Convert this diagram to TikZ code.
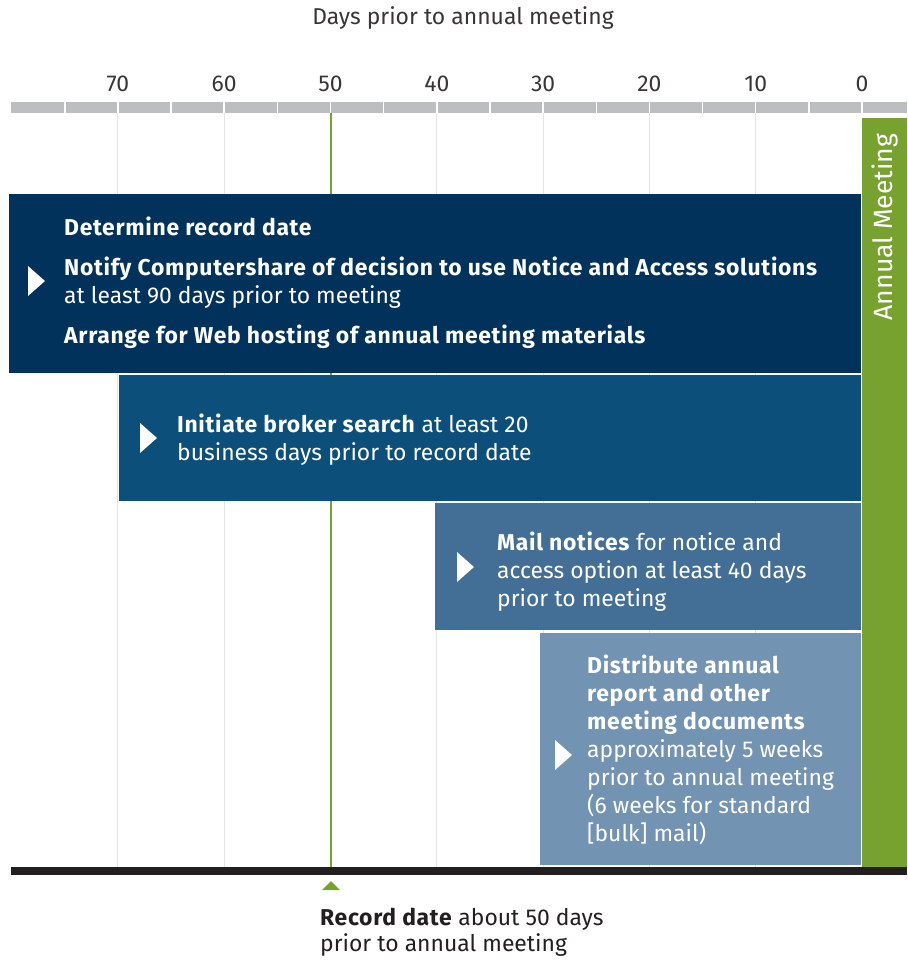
\documentclass[tikz,border=0pt]{standalone}
\usepackage{fontspec}
\setmainfont[BoldFeatures={LetterSpace=3.0}]{Fira Sans}
\usepackage{xcolor}
\usetikzlibrary{positioning}
\definecolor{NavyDeep}{HTML}{00325B}
\definecolor{NavyMid}{HTML}{0B4F7A}
\definecolor{SteelBlue}{HTML}{436F97}
\definecolor{SkyGrey}{HTML}{7393B3}
\definecolor{LeafGreen}{HTML}{78A22F}
\definecolor{InkBlack}{HTML}{231F20}
\definecolor{BarGrey}{HTML}{BCBEC0}
\definecolor{GridGrey}{HTML}{E3E4E5}

\begin{document}
\begin{tikzpicture}[
    x=1pt, y=-1pt,
    txt/.style={font=\fontsize{22.9}{28}\selectfont, inner sep=0pt},
    boxtext/.style={txt, anchor=west, align=left, text=white},
    daynum/.style={txt, anchor=base, text=InkBlack!90},
    grid/.style={GridGrey, line width=1pt},
    pointer/.style={fill=white}
  ]
  \useasboundingbox (0,0) rectangle (907,963);

  % Title and day scale
  \node[txt, anchor=base, text=InkBlack!90] (title) at (463,25) {Days prior to annual meeting};
  \fill[BarGrey] (11,102) rectangle (907,113);
  \foreach \d in {0,5,...,75}{
    \draw[white, line width=1.5pt] ({862-10.63*\d},102) -- ({862-10.63*\d},113);
  }
  \foreach \d in {70,60,...,0}{
    \node[daynum] (n\d) at ({862-10.63*\d},92) {\d};
  }

  % Vertical grid and record date line
  \foreach \d in {70,60,40,30,20,10}{
    \draw[grid] ({862-10.63*\d},113) -- ({862-10.63*\d},867);
  }
  \draw[LeafGreen, line width=1.1pt] (331,113) -- (331,867);

  % Task bars
  \fill[NavyDeep] (9,194) rectangle (861,373);
  \fill[NavyMid] (119,375) rectangle (861,501);
  \fill[SteelBlue] (435,503) rectangle (861,630);
  \fill[SkyGrey] (540,633) rectangle (861,865);

  % Pointers
  \fill[pointer] (28,266) -- (45,281) -- (28,296) -- cycle;
  \fill[pointer] (140,423) -- (157,438) -- (140,453) -- cycle;
  \fill[pointer] (457,552) -- (474,567) -- (457,582) -- cycle;
  \fill[pointer] (555,740) -- (572,755) -- (555,770) -- cycle;

  \node[boxtext] (task1) at (64,283) {\textbf{Determine record date}\\[12pt]
    \textbf{Notify Computershare of decision to use Notice and Access solutions}\\
    at least 90 days prior to meeting\\[12pt]
    \textbf{Arrange for Web hosting of annual meeting materials}};
  \node[boxtext] (task2) at (177,440) {\textbf{Initiate broker search} at least 20\\
    business days prior to record date};
  \node[boxtext] (task3) at (497,572) {\textbf{Mail notices} for notice and\\
    access option at least 40 days\\prior to meeting};
  \node[boxtext] (task4) at (587,750) {\textbf{Distribute annual}\\
    \textbf{report and other}\\\textbf{meeting documents}\\
    approximately 5 weeks\\prior to annual meeting\\
    (6 weeks for standard\\{[bulk]} mail)};

  % Annual meeting bar
  \fill[LeafGreen] (862,118) rectangle (907,868);
  \node[txt, rotate=90, text=white, font=\fontsize{26.5}{30}\selectfont] (meeting) at (885,227) {Annual Meeting};

  % Base line and record date marker
  \fill[InkBlack] (11,867) rectangle (907,875);
  \fill[LeafGreen] (322,890) -- (331,881) -- (340,890) -- cycle;
  \node[txt, anchor=north west, align=left, text=InkBlack, font=\fontsize{22.9}{26}\selectfont]
    (recnote) at (320,908) {\textbf{Record date} about 50 days\\prior to annual meeting};

\end{tikzpicture}
\end{document}
